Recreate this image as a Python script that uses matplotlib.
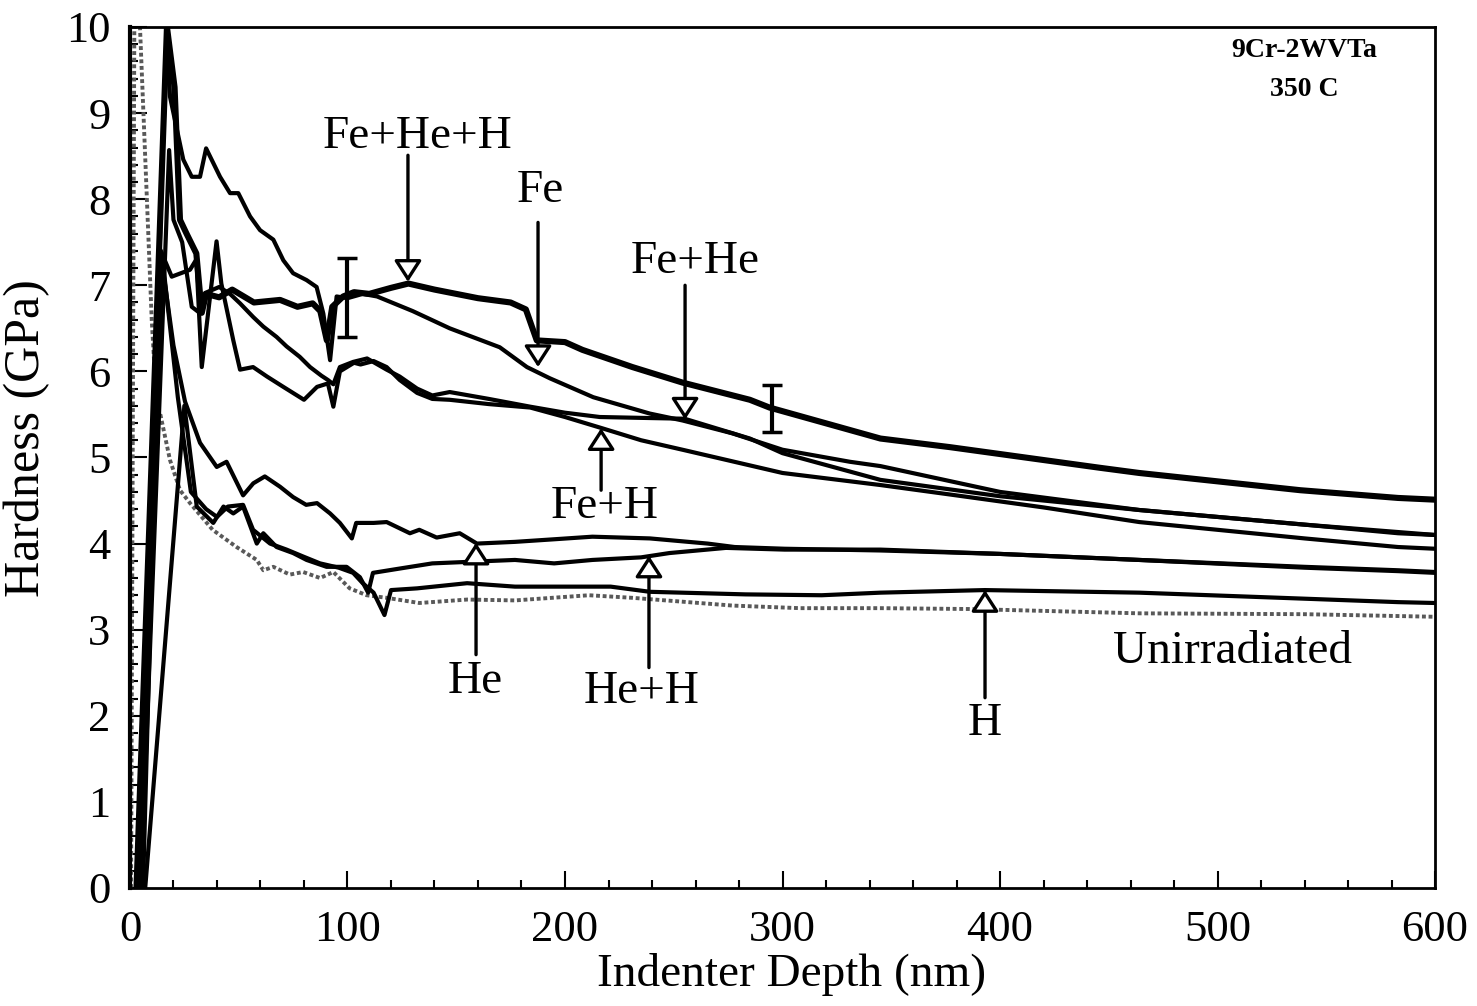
import matplotlib.pyplot as plt
from matplotlib.ticker import MultipleLocator

plt.rcParams['font.family'] = ['Liberation Serif', 'DejaVu Serif']

# hardness traces (depth in nm, hardness in GPa)
depth_fe_he_h = [3, 17, 20.5, 23, 26, 30.5, 33, 35, 41, 47, 57, 69, 77, 84, 87.5, 90.5, 93, 98, 103,
                 110, 120, 128, 140, 160, 175, 182, 187, 200, 208, 231, 254, 285, 294, 345, 377, 446,
                 464, 538, 583, 600]
hard_fe_he_h = [0, 10, 9.3, 7.76, 7.6, 7.37, 6.68, 6.9, 6.86, 6.95, 6.8, 6.83, 6.75, 6.79, 6.7, 6.36,
                6.75, 6.87, 6.92, 6.9, 6.97, 7.02, 6.95, 6.85, 6.8, 6.72, 6.36, 6.34, 6.25, 6.05, 5.87,
                5.67, 5.58, 5.22, 5.12, 4.88, 4.82, 4.62, 4.53, 4.51]

depth_fe = [4, 17, 18.4, 24.5, 28.4, 32.2, 35, 41.4, 46, 49.8, 55.2, 59.8, 65.9, 70.5, 75, 81.2, 85.8,
            88.9, 92, 95, 100, 107, 113.6, 130, 147, 170, 182.5, 193, 213, 239, 254, 277, 300, 331,
            345, 400, 464, 540, 583, 600]
hard_fe = [0, 10, 9.19, 8.46, 8.26, 8.26, 8.59, 8.26, 8.07, 8.07, 7.80, 7.64, 7.53, 7.29, 7.14, 7.06,
           6.98, 6.67, 6.13, 6.87, 6.85, 6.9, 6.87, 6.7, 6.5, 6.28, 6.05, 5.92, 5.7, 5.51, 5.43, 5.28,
           5.09, 4.95, 4.9, 4.6, 4.39, 4.22, 4.12, 4.10]

depth_fe_he = [5, 18, 20, 24, 28.4, 32, 34.5, 41, 46, 50.6, 56.7, 61.3, 67.4, 72, 78, 82.8, 88, 91,
               93.5, 96.5, 102.6, 109, 118, 124, 132, 139, 147, 165, 184, 200, 216, 235, 255, 285,
               300, 345, 400, 464, 540, 600]
hard_fe_he = [0, 8.57, 7.76, 7.5, 6.75, 6.68, 6.91, 6.98, 6.9, 6.79, 6.63, 6.52, 6.40, 6.29, 6.17,
              6.05, 5.95, 5.9, 5.85, 6.05, 6.11, 6.15, 6.02, 5.94, 5.8, 5.72, 5.76, 5.68, 5.59, 5.52,
              5.47, 5.46, 5.45, 5.22, 5.05, 4.74, 4.55, 4.39, 4.22, 4.10]

depth_fe_h = [6, 14, 19.2, 27.6, 30.5, 33, 39.8, 42, 47.5, 50.6, 56.6, 63, 70.5, 80, 86, 91, 93.5,
              96.5, 103, 106, 112, 118, 124, 132, 139, 147, 165, 184, 200, 217, 235, 254, 300, 345,
              377, 420, 464, 540, 583, 600]
hard_fe_h = [0, 7.41, 7.1, 7.18, 7.3, 6.05, 7.51, 7.02, 6.36, 6.02, 6.05, 5.94, 5.82, 5.67, 5.82,
             5.86, 5.59, 6.0, 6.1, 6.08, 6.12, 6.05, 5.9, 5.75, 5.68, 5.67, 5.62, 5.58, 5.47, 5.34,
             5.2, 5.09, 4.82, 4.68, 4.57, 4.42, 4.25, 4.06, 3.96, 3.94]

depth_he = [5, 14, 20, 25.3, 32.2, 39.9, 44.4, 52, 56.7, 62, 69, 75, 81, 86, 92, 96.5, 102, 104, 112,
            118, 128.7, 133, 141, 151.6, 159.5, 177, 195, 212.6, 239, 265.6, 278, 301, 345, 400, 464,
            540, 583, 600]
hard_he = [0, 7.4, 6.3, 5.65, 5.17, 4.89, 4.95, 4.56, 4.70, 4.78, 4.66, 4.54, 4.45, 4.47, 4.35, 4.24,
           4.06, 4.24, 4.24, 4.25, 4.12, 4.16, 4.07, 4.12, 4.0, 4.02, 4.05, 4.08, 4.06, 4.0, 3.96,
           3.94, 3.92, 3.88, 3.81, 3.73, 3.69, 3.67]

depth_he_h = [7, 25, 30.7, 38.3, 43, 47.5, 52, 58.3, 61.3, 67.4, 75, 81.2, 90.4, 99.6, 105.7, 109.5,
              111.7, 124, 139, 157.7, 177, 195, 212.6, 235, 248, 274, 301, 345, 400, 464, 540, 583,
              600]
hard_he_h = [0, 5.6, 4.43, 4.24, 4.43, 4.35, 4.43, 4.0, 4.12, 3.96, 3.89, 3.81, 3.73, 3.73, 3.61,
             3.43, 3.66, 3.71, 3.77, 3.79, 3.81, 3.77, 3.81, 3.84, 3.89, 3.95, 3.93, 3.93, 3.88, 3.81,
             3.72, 3.68, 3.66]

depth_h = [4, 15, 22, 28, 35, 40, 45, 52, 56.6, 64.4, 72, 79.6, 87.4, 96, 102.6, 107, 112, 117, 120,
           132, 155, 177, 221, 239, 283, 318, 345, 393, 464, 540, 583, 600]
hard_h = [0, 7.3, 5.7, 4.6, 4.4, 4.31, 4.43, 4.45, 4.16, 4.0, 3.93, 3.85, 3.77, 3.72, 3.66, 3.54,
          3.43, 3.17, 3.46, 3.48, 3.54, 3.50, 3.50, 3.44, 3.41, 3.40, 3.43, 3.46, 3.43, 3.36, 3.32,
          3.31]

depth_unirr = [0.5, 2, 4.6, 10, 12.9, 13.8, 18.4, 23, 27.6, 38, 49, 58.3, 61.3, 65.9, 73.5, 79.6,
               87.4, 93.5, 101, 108.8, 118, 133, 155, 177, 211, 231, 277, 308, 345, 386, 464, 540,
               600]
hard_unirr = [0, 10, 10, 6.6, 5.32, 5.52, 4.97, 4.62, 4.47, 4.16, 3.96, 3.81, 3.69, 3.73, 3.64, 3.67,
              3.60, 3.67, 3.48, 3.40, 3.37, 3.31, 3.35, 3.34, 3.40, 3.37, 3.28, 3.25, 3.25, 3.24,
              3.19, 3.18, 3.15]

# error bars
err_depth = [100, 295]
err_hard = [6.86, 5.57]
err_half = [0.46, 0.27]

# labels: text, text position, arrow tail, arrow tip
labels = ['Fe+He+H', 'Fe', 'Fe+He', 'Fe+H', 'He', 'He+H', 'H']
label_xy = [(132, 8.72), (188.5, 8.1), (259.8, 7.27), (218.4, 4.43), (158.6, 2.4), (235.4, 2.28),
            (393.1, 1.91)]
arrow_tail = [(127.8, 8.51), (187.6, 7.73), (255.2, 7.0), (216.6, 4.62), (159.1, 2.71), (238.6, 2.56),
              (393.1, 2.21)]
arrow_tip = [(127.8, 7.04), (187.6, 6.05), (255.2, 5.44), (216.6, 5.34), (159.1, 4.01), (238.6, 3.86),
             (393.1, 3.46)]

fig = plt.figure(figsize=(14.77, 10.06), dpi=100)
ax = fig.add_axes([0.088, 0.1173, 0.8836, 0.8559])

ax.plot(depth_unirr, hard_unirr, color='0.35', lw=2.8, ls=(0, (1, 0.7)))
for d, h in [(depth_fe, hard_fe), (depth_fe_he, hard_fe_he), (depth_fe_h, hard_fe_h),
             (depth_he, hard_he), (depth_he_h, hard_he_h), (depth_h, hard_h)]:
    ax.plot(d, h, color='black', lw=3.0)
ax.plot(depth_fe_he_h, hard_fe_he_h, color='black', lw=4.4)

ax.errorbar(err_depth, err_hard, yerr=err_half, fmt='none', ecolor='black', elinewidth=3,
            capsize=7, capthick=2.5)

for text, pos, tail, tip in zip(labels, label_xy, arrow_tail, arrow_tip):
    ax.text(pos[0], pos[1], text, fontsize=34, ha='center', va='center')
    ax.annotate('', xy=tip, xytext=tail,
                arrowprops=dict(arrowstyle='-|>,head_length=0.65,head_width=0.42', fc='white',
                                ec='black', lw=2.4, mutation_scale=20, shrinkA=0, shrinkB=0))

ax.text(507, 2.74, 'Unirradiated', fontsize=34, ha='center', va='center')
ax.text(540, 9.73, '9Cr-2WVTa', fontsize=20, fontweight='bold', ha='center', va='center')
ax.text(540, 9.27, '350 C', fontsize=20, fontweight='bold', ha='center', va='center')

ax.set_xlim(0, 600)
ax.set_ylim(0, 10)
ax.xaxis.set_major_locator(MultipleLocator(100))
ax.xaxis.set_minor_locator(MultipleLocator(20))
ax.yaxis.set_major_locator(MultipleLocator(1))
ax.yaxis.set_minor_locator(MultipleLocator(0.2))
ax.tick_params(which='both', direction='in', width=1.5, labelsize=32)
ax.tick_params(which='major', length=12)
ax.tick_params(which='minor', length=6)
ax.tick_params(axis='x', pad=16)
ax.tick_params(axis='y', pad=14)
for s in ax.spines.values():
    s.set_linewidth(2)
ax.spines['left'].set_linewidth(3)

ax.set_xlabel('Indenter Depth (nm)', fontsize=34)
ax.set_ylabel('Hardness (GPa)', fontsize=36)
ax.xaxis.set_label_coords(0.507, -0.076)
ax.yaxis.set_label_coords(-0.061, 0.523)

fig.savefig('out.png', dpi=100)
